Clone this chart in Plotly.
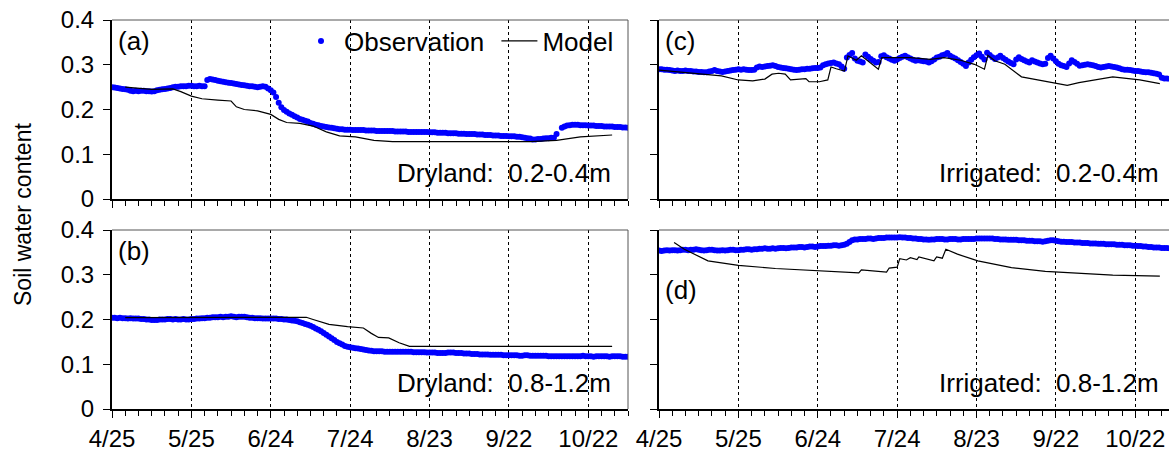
import pandas as pd
import plotly.graph_objects as go

START = "2015-04-25"
start_ts = pd.Timestamp(START)

# ---------------- data (day index 0 = 4/25) ----------------
obs_a = [
    0.250, 0.249, 0.248, 0.247, 0.246, 0.245, 0.244,
    0.242, 0.241, 0.242, 0.241, 0.242, 0.242, 0.241, 0.241, 0.240,
    0.241, 0.243, 0.244, 0.245, 0.246, 0.247, 0.248,
    0.250, 0.251, 0.251, 0.252, 0.252, 0.252, 0.253, 0.253, 0.252, 0.252, 0.253, 0.252, 0.252,
    0.266, 0.268, 0.267, 0.266, 0.264, 0.263, 0.262, 0.261, 0.260,
    0.259, 0.258, 0.257, 0.256, 0.255, 0.254, 0.253, 0.252, 0.252, 0.251, 0.250,
    0.251, 0.252, 0.251, 0.247, 0.243, 0.238,
    0.228, 0.215, 0.205, 0.199, 0.195, 0.191, 0.188, 0.185, 0.182,
    0.179, 0.177, 0.175, 0.173, 0.170, 0.168, 0.166, 0.165, 0.163, 0.162,
    0.161, 0.160, 0.159, 0.158, 0.157, 0.156, 0.156, 0.155, 0.155, 0.155, 0.154, 0.154, 0.154,
    0.154, 0.154, 0.153, 0.153, 0.153, 0.153, 0.152, 0.152, 0.152, 0.152, 0.152, 0.152, 0.152,
    0.151, 0.151, 0.151, 0.151, 0.151, 0.150, 0.150, 0.150, 0.150, 0.150, 0.150, 0.150,
    0.150, 0.149, 0.149, 0.149, 0.148, 0.148, 0.148, 0.148, 0.147, 0.147, 0.147, 0.147, 0.146,
    0.146, 0.146, 0.145, 0.145, 0.145, 0.145, 0.144, 0.144, 0.144, 0.143, 0.143, 0.143, 0.142,
    0.142, 0.142, 0.141, 0.141, 0.141, 0.140, 0.140, 0.140, 0.139, 0.139, 0.138, 0.137, 0.136, 0.135,
    0.133, 0.133, 0.134, 0.134, 0.135, 0.136, 0.136, 0.137, 0.137,
    0.145,
    None,
    0.159, 0.162, 0.164, 0.165, 0.166, 0.166, 0.166, 0.165,
    0.165, 0.165, 0.164, 0.164, 0.164, 0.163, 0.163, 0.163, 0.162,
    0.162, 0.162, 0.162, 0.161, 0.161, 0.161, 0.160, 0.160, 0.159,
]

obs_b = [
    0.204, 0.204, 0.203, 0.204, 0.203, 0.203, 0.202, 0.203, 0.202, 0.202, 0.202, 0.201,
    0.201, 0.200, 0.200, 0.199, 0.199, 0.199, 0.200, 0.200, 0.200, 0.201, 0.201, 0.200,
    0.201, 0.200, 0.200, 0.201, 0.200,
    0.200, 0.201, 0.201, 0.202, 0.202, 0.203, 0.203, 0.204, 0.204, 0.205, 0.205, 0.205,
    0.206, 0.205, 0.206, 0.206, 0.207, 0.206, 0.205, 0.206, 0.206, 0.206, 0.205, 0.204,
    0.204, 0.203, 0.203, 0.203, 0.202, 0.202, 0.202, 0.202, 0.202, 0.202, 0.201, 0.201, 0.200,
    0.200, 0.199, 0.198, 0.197, 0.196, 0.194, 0.192, 0.190, 0.188, 0.186,
    0.183, 0.180, 0.177, 0.174, 0.170, 0.166, 0.162, 0.158, 0.154, 0.150, 0.147, 0.144,
    0.141, 0.139, 0.138,
    0.137, 0.136, 0.135, 0.134, 0.133, 0.132, 0.131, 0.130, 0.129, 0.129,
    0.129, 0.129, 0.128, 0.128, 0.128, 0.128, 0.128, 0.128, 0.128, 0.128, 0.128, 0.128,
    0.128, 0.127, 0.127, 0.127, 0.127, 0.127, 0.126, 0.126, 0.126, 0.126, 0.125, 0.125, 0.125,
    0.125, 0.126, 0.126, 0.126, 0.125, 0.125, 0.125, 0.124, 0.124, 0.124, 0.123, 0.123,
    0.123, 0.122, 0.122, 0.122, 0.122, 0.121, 0.121, 0.121, 0.121, 0.121, 0.120, 0.120, 0.120,
    0.120, 0.120, 0.120, 0.119, 0.119, 0.120, 0.120, 0.119, 0.119, 0.119, 0.119, 0.119,
    0.119, 0.119, 0.118, 0.118, 0.118, 0.118, 0.118, 0.118, 0.118, 0.118, 0.118, 0.118, 0.118,
    0.118, 0.118, 0.119, 0.118, 0.118, 0.118, 0.117, 0.118, 0.118, 0.118,
    0.118, 0.118, 0.117, 0.118, 0.118, 0.118, 0.118, 0.117, 0.117, 0.117,
]

obs_c = [
    0.290, 0.290, 0.289, 0.289, 0.288, 0.287,
    0.286, 0.287, 0.286, 0.286, 0.287, 0.286, 0.286, 0.285, 0.285, 0.284, 0.284, 0.283,
    0.283, 0.285, 0.286, 0.288, 0.286, 0.285,
    0.284, 0.285, 0.286, 0.287, 0.288, 0.289,
    0.290, 0.289, 0.290, 0.289, 0.288, 0.288, 0.289,
    0.294, 0.296, 0.295, 0.296, 0.297, 0.298, 0.299, 0.297, 0.295,
    0.294, 0.293, 0.292, 0.291, 0.290, 0.289, 0.288, 0.289, 0.290, 0.290,
    0.291, 0.291, 0.292, 0.293, 0.293, 0.294,
    0.299, 0.301, 0.303, 0.304, 0.305, 0.303, 0.301, 0.296,
    0.291, 0.316, 0.322, 0.326, 0.314, 0.309, 0.307, 0.305, 0.323,
    0.318, 0.313, 0.309, 0.305, 0.306,
    0.319, 0.321,
    0.317, 0.314, 0.311, 0.309,
    0.312, 0.315, 0.318, 0.320,
    0.317, 0.314, 0.311, 0.309,
    0.310, 0.309, 0.308, 0.307, 0.305, 0.308, 0.312,
    0.316, 0.318, 0.321, 0.323, 0.326,
    0.320, 0.317, 0.314, 0.310, 0.306, 0.302, 0.297,
    0.305, 0.311, 0.317, 0.321, 0.325,
    0.318, 0.312,
    0.327,
    0.322, 0.317, 0.313, 0.316,
    0.320,
    0.315, 0.311, 0.307, 0.304, 0.301,
    0.312, 0.317,
    0.313, 0.310, 0.307, 0.305,
    0.310, 0.307,
    0.305, 0.303, 0.301, 0.302,
    0.315, 0.320,
    0.314, 0.308, 0.302, 0.299, 0.297, 0.295,
    0.303, 0.310,
    0.306, 0.302, 0.298, 0.299, 0.300, 0.301,
    0.300, 0.299, 0.297, 0.295, 0.294, 0.295, 0.296, 0.297,
    0.296, 0.295, 0.294, 0.292, 0.290, 0.289, 0.289, 0.288, 0.287, 0.286,
    0.286, 0.285, 0.284, 0.283, 0.283, 0.282, 0.281, 0.280, 0.278,
    0.271, 0.269, 0.269, 0.269,
]

obs_d = [
    0.354, 0.353, 0.354, 0.355, 0.354, 0.355, 0.355, 0.354, 0.355, 0.356, 0.356, 0.355,
    0.356, 0.356, 0.357, 0.356, 0.355, 0.354, 0.355, 0.356, 0.356, 0.355, 0.354, 0.354, 0.355,
    0.354, 0.355, 0.356, 0.356, 0.355, 0.355, 0.356, 0.356, 0.357, 0.357, 0.356, 0.357, 0.357,
    0.358, 0.358, 0.359, 0.358, 0.358, 0.359, 0.358, 0.359, 0.360, 0.360, 0.359, 0.360, 0.361,
    0.361, 0.361, 0.362, 0.362, 0.361, 0.362, 0.363, 0.363, 0.362, 0.363, 0.364, 0.364,
    0.364, 0.365, 0.365, 0.366, 0.366, 0.365, 0.366, 0.367, 0.369,
    0.373, 0.377, 0.379, 0.379, 0.380,
    0.380, 0.380, 0.381, 0.381, 0.380, 0.381, 0.382, 0.382, 0.382, 0.383, 0.383, 0.383, 0.383,
    0.383, 0.384, 0.383, 0.383, 0.382, 0.382, 0.381, 0.381, 0.380, 0.380, 0.379,
    0.379, 0.378, 0.379, 0.379, 0.380, 0.380, 0.380, 0.379, 0.379, 0.380, 0.380, 0.380,
    0.379, 0.379, 0.380,
    0.380, 0.380, 0.380, 0.380, 0.381, 0.381, 0.381, 0.381, 0.381, 0.381, 0.381, 0.380,
    0.380, 0.379, 0.379,
    0.379, 0.378, 0.378, 0.378, 0.378, 0.377, 0.377, 0.377, 0.376, 0.376, 0.376, 0.375,
    0.375, 0.375, 0.374,
    0.375, 0.376, 0.377, 0.377, 0.376, 0.375, 0.374,
    0.374, 0.373, 0.373, 0.373, 0.372, 0.372, 0.372, 0.371, 0.371, 0.371, 0.370, 0.370,
    0.370, 0.369, 0.369, 0.369, 0.368, 0.368,
    0.368, 0.368, 0.367, 0.367, 0.367, 0.366, 0.366, 0.366, 0.365, 0.365, 0.364, 0.364,
    0.363, 0.363, 0.362, 0.362, 0.361, 0.361, 0.361, 0.360, 0.360, 0.360, 0.359,
]

model_a_days = [5, 15, 23, 26, 30, 34, 40, 45, 47, 50, 55, 60, 63, 66, 71, 76, 81, 86,
                92, 99, 106, 158, 168, 177, 189]
model_a_vals = [0.250, 0.245, 0.246, 0.240, 0.230, 0.224, 0.221, 0.219, 0.206, 0.200,
                0.197, 0.189, 0.178, 0.171, 0.169, 0.163, 0.150, 0.141, 0.139, 0.131,
                0.128, 0.128, 0.131, 0.139, 0.143]

model_b_days = [5, 60, 73.4, 76, 82, 89, 95, 98, 100.7, 104.6, 108.5, 112.4, 189]
model_b_vals = [0.204, 0.205, 0.205, 0.200, 0.189, 0.184, 0.181, 0.169, 0.160, 0.159,
                0.148, 0.140, 0.140]

model_c_days = [0, 5.7, 18.5, 23.6, 30, 35.4, 40, 42.7, 45.2, 47.7, 49.7, 54, 55.5, 56.7,
                60.6, 63.8, 65.0, 67, 70.1, 71.4, 74.6, 76.5, 82.9, 84.2, 95, 102.6, 107.7,
                114, 119.2, 123, 124.3, 126.9, 130.7, 137, 146, 154.3, 158.7, 171.5, 181.7,
                189.3]
model_c_vals = [0.288, 0.285, 0.277, 0.275, 0.266, 0.264, 0.268, 0.279, 0.281, 0.279,
                0.266, 0.268, 0.269, 0.262, 0.262, 0.266, 0.295, 0.291, 0.286, 0.320,
                0.310, 0.320, 0.290, 0.316, 0.316, 0.312, 0.316, 0.310, 0.301, 0.290,
                0.321, 0.309, 0.301, 0.273, 0.264, 0.254, 0.260, 0.273, 0.266, 0.258]

model_d_days = [5.7, 9.6, 18.5, 30, 44, 56.7, 72, 75.5, 76.5, 86, 87, 90, 91, 93.5, 95,
                97.5, 98.2, 103.9, 104.9, 107.1, 108.4, 112.8, 120.5, 133.2, 146, 158.7,
                171.5, 189.3]
model_d_vals = [0.372, 0.357, 0.331, 0.321, 0.314, 0.310, 0.3045, 0.304, 0.311, 0.306,
                0.315, 0.317, 0.336, 0.333, 0.338, 0.334, 0.340, 0.331, 0.340, 0.337,
                0.357, 0.346, 0.331, 0.316, 0.3075, 0.304, 0.299, 0.297]

NB = "\u00a0"
series_names = ["Observation", "Model"]
panel_labels = ["(a)", "(b)", "(c)", "(d)"]
panel_titles = ["Dryland:" + NB + " 0.2-0.4m", "Dryland:" + NB + " 0.8-1.2m",
                "Irrigated:" + NB + " 0.2-0.4m", "Irrigated:" + NB + " 0.8-1.2m"]


def to_dates(days):
    return [(start_ts + pd.Timedelta(hours=round(float(d) * 24))).strftime("%Y-%m-%d %H:%M")
            for d in days]


# ---------------- figure ----------------
W, H = 1169, 456
ML, MR, MT, MB = 112, 0, 20, 47
PW, PH = W - ML - MR, H - MT - MB
FONT = "Liberation Sans, Arial, sans-serif"
BLUE = "#0000FF"
TXT = 26

left_px = (112, 628)
right_px = (659, 1169)
px_per_day = (left_px[1] - left_px[0]) / 195.0
right_days = (right_px[1] - right_px[0]) / px_per_day

xdom_left = [(left_px[0] - ML) / PW, (left_px[1] - ML) / PW]
xdom_right = [(right_px[0] - ML) / PW, 1.0]
ydom_top = [(H - MB - 199) / PH, 1.0]
ydom_bot = [0.0, (H - MB - 230) / PH]

fig = go.Figure()

panels = [
    ("x", "y", obs_a, model_a_days, model_a_vals),
    ("x2", "y2", obs_b, model_b_days, model_b_vals),
    ("x3", "y3", obs_c, model_c_days, model_c_vals),
    ("x4", "y4", obs_d, model_d_days, model_d_vals),
]
for i, (xa, ya, obs, md, mv) in enumerate(panels):
    fig.add_trace(go.Scatter(
        x=to_dates(range(len(obs))), y=obs, mode="markers",
        marker=dict(color=BLUE, size=6, line=dict(width=0)),
        name=series_names[0] + NB, showlegend=(i == 0), xaxis=xa, yaxis=ya))
    fig.add_trace(go.Scatter(
        x=to_dates(md), y=mv, mode="lines",
        line=dict(color="black", width=1.2),
        name=series_names[1], showlegend=(i == 0), xaxis=xa, yaxis=ya))


def xcfg(domain, anchor, ndays, labels):
    return dict(
        domain=domain, anchor=anchor, type="date",
        range=to_dates([0, ndays]),
        tick0=START, dtick=30 * 86400000, tickformat="%-m/%-d",
        showticklabels=labels, ticks="outside", ticklen=7, tickwidth=1,
        tickcolor="black",
        minor=dict(dtick=5 * 86400000, tick0=START, ticks="outside", ticklen=5,
                   tickwidth=1, tickcolor="black", showgrid=False),
        showgrid=True, gridcolor="black", gridwidth=1, griddash="3px,3px",
        showline=True, linecolor="black", linewidth=2, zeroline=False,
        tickfont=dict(size=24, color="black", family=FONT),
    )


def ycfg(domain, anchor, labels):
    return dict(
        domain=domain, anchor=anchor, range=[0, 0.4], tick0=0, dtick=0.1,
        showticklabels=labels, ticks="outside", ticklen=7, tickwidth=1,
        tickcolor="black", showgrid=False, showline=True, linecolor="black",
        linewidth=2, zeroline=False, ticklabelstandoff=4,
        tickfont=dict(size=24, color="black", family=FONT),
    )


fig.update_layout(
    width=W, height=H,
    margin=dict(l=ML, r=MR, t=MT, b=MB, pad=0),
    paper_bgcolor="white", plot_bgcolor="white",
    font=dict(family=FONT, color="black"),
    xaxis=xcfg(xdom_left, "y", 195, False),
    xaxis2=xcfg(xdom_left, "y2", 195, True),
    xaxis3=xcfg(xdom_right, "y3", right_days, False),
    xaxis4=xcfg(xdom_right, "y4", right_days, True),
    yaxis=ycfg(ydom_top, "x", True),
    yaxis2=ycfg(ydom_bot, "x2", True),
    yaxis3=ycfg(ydom_top, "x3", False),
    yaxis4=ycfg(ydom_bot, "x4", False),
    legend=dict(orientation="h", x=(619 - ML) / PW, xanchor="right",
                y=(H - MB - 41) / PH, yanchor="middle",
                bgcolor="rgba(0,0,0,0)", borderwidth=0, itemwidth=36,
                font=dict(size=TXT, color="black", family=FONT),
                tracegroupgap=0),
)

shapes = []
# white patch behind the legend text (hides the dashed gridlines there)
shapes.append(dict(type="rect", xref="x domain", yref="y domain", layer="below",
                   x0=(305 - 112) / 516, x1=(617 - 112) / 516,
                   y0=(199 - 56) / 179, y1=(199 - 24) / 179,
                   fillcolor="white", line=dict(width=0)))
# frame: grey top (and right for left panels)
for xa, ya, right_border in [("x", "y", True), ("x2", "y2", True),
                             ("x3", "y3", False), ("x4", "y4", False)]:
    shapes.append(dict(type="line", xref=f"{xa} domain", yref=f"{ya} domain",
                       x0=0, x1=1, y0=1, y1=1, line=dict(color="#555555", width=1)))
    if right_border:
        shapes.append(dict(type="line", xref=f"{xa} domain", yref=f"{ya} domain",
                           x0=1, x1=1, y0=0, y1=1, line=dict(color="#555555", width=1)))
fig.update_layout(shapes=shapes)

annotations = []
label_pos = [("x", "y", 0.88), ("x2", "y2", 0.88), ("x3", "y3", 0.88), ("x4", "y4", 0.665)]
for (xa, ya, yy), lab in zip(label_pos, panel_labels):
    annotations.append(dict(text=lab, xref=f"{xa} domain", yref=f"{ya} domain",
                            x=0.008, y=yy, xanchor="left", yanchor="middle",
                            showarrow=False, font=dict(size=TXT, family=FONT, color="black")))
title_x = [0.971, 0.971, 0.984, 0.984]
for (xa, ya, _), t, tx in zip(label_pos, panel_titles, title_x):
    annotations.append(dict(text=t, xref=f"{xa} domain", yref=f"{ya} domain",
                            x=tx, y=0.145, xanchor="right", yanchor="middle",
                            showarrow=False, font=dict(size=TXT, family=FONT, color="black")))
annotations.append(dict(text="Soil water content", xref="paper", yref="paper",
                        x=(23 - ML) / PW, y=(H - MB - 215) / PH, textangle=-90,
                        xanchor="center", yanchor="middle", showarrow=False,
                        font=dict(size=23, family=FONT, color="black")))
fig.update_layout(annotations=annotations)

fig.write_html("out.html")
